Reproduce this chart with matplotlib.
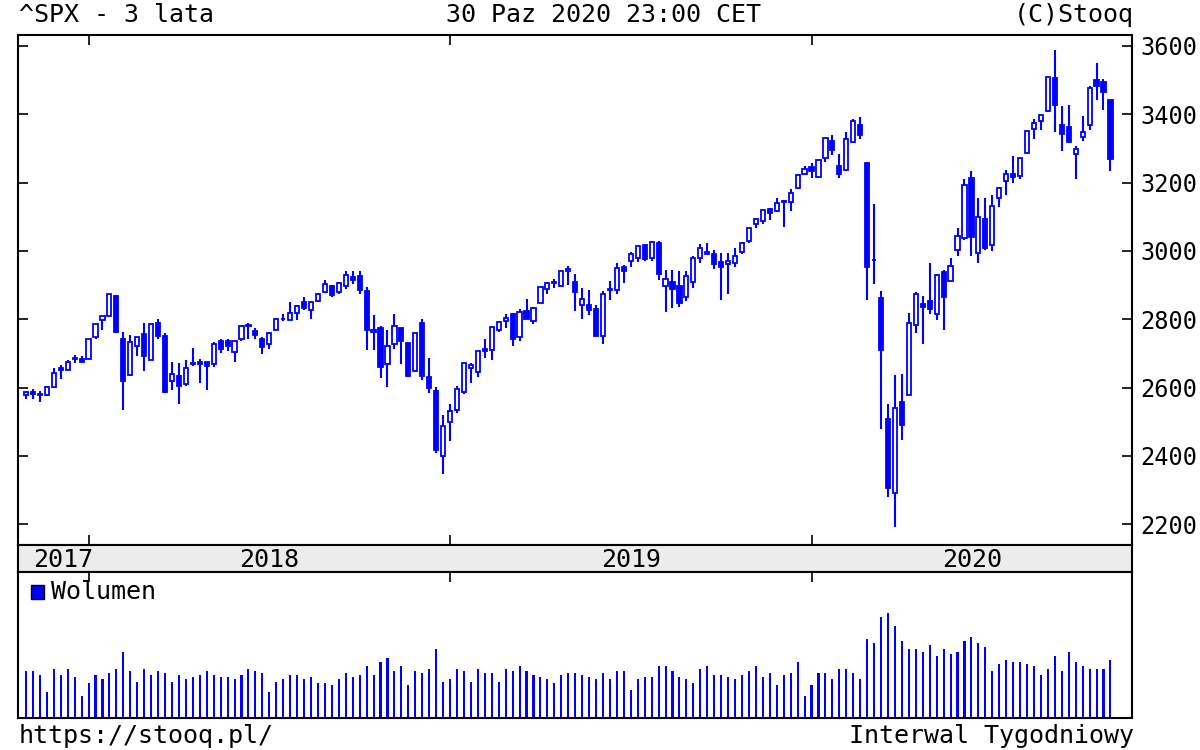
import matplotlib
matplotlib.use('Agg')
import matplotlib.pyplot as plt
from matplotlib.patches import Rectangle
import numpy as np
import pandas as pd

plt.rcParams['font.family'] = ['DejaVu Sans Mono']

# weekly candles, 3 Nov 2017 .. 30 Oct 2020
weeks = pd.date_range('2017-11-03', periods=157, freq='W-FRI')

opens = [2578, 2588, 2580, 2579, 2603, 2657, 2652, 2685, 2683,
         2684, 2747, 2798, 2809, 2867, 2741, 2636, 2722, 2757, 2681, 2788, 2752, 2619,
         2633, 2611, 2670, 2675, 2675, 2669, 2735, 2735, 2705, 2741, 2782, 2766, 2742,
         2726, 2769, 2800, 2799, 2819, 2849, 2827, 2853, 2881, 2896, 2880, 2896, 2923,
         2926, 2882, 2763, 2773, 2670, 2726, 2774, 2730, 2649, 2790, 2630, 2590, 2400,
         2498, 2535, 2586, 2657, 2644, 2713, 2711, 2769, 2796, 2814, 2747, 2823, 2796,
         2848, 2888, 2909, 2898, 2941, 2908, 2841, 2841, 2830, 2751, 2885, 2886, 2952,
         2971, 2979, 3017, 2978, 3024, 2898, 2908, 2898, 2866, 2910, 2980, 2996, 2991,
         2967, 2962, 2965, 2996, 3028, 3078, 3087, 3123, 3117, 3143, 3142, 3183, 3226,
         3247, 3217, 3271, 3321, 3248, 3236, 3319, 3369, 3257, 2974, 2863, 2508, 2291,
         2559, 2578, 2782, 2845, 2854, 2815, 2937, 2913, 3004, 3038, 3213, 2993, 3094,
         3018, 3155, 3205, 3224, 3219, 3288, 3356, 3380, 3410, 3507, 3369, 3363, 3285,
         3334, 3368, 3500, 3493, 3441]
highs = [2588, 2597, 2590, 2605, 2658, 2665, 2680, 2695, 2692,
         2743, 2787, 2810, 2873, 2870, 2763, 2754, 2747, 2789, 2787, 2802, 2761, 2675,
         2673, 2680, 2717, 2683, 2676, 2732, 2743, 2742, 2736, 2779, 2790, 2774, 2747,
         2763, 2804, 2816, 2849, 2842, 2864, 2853, 2876, 2916, 2900, 2908, 2941, 2940,
         2940, 2895, 2813, 2779, 2767, 2815, 2775, 2730, 2760, 2800, 2685, 2601, 2520,
         2553, 2604, 2675, 2672, 2708, 2743, 2775, 2792, 2814, 2817, 2831, 2860, 2836,
         2893, 2910, 2918, 2940, 2955, 2932, 2892, 2885, 2841, 2884, 2911, 2964, 2958,
         2996, 3014, 3018, 3028, 3028, 2945, 2943, 2940, 2940, 2985, 3021, 3022, 3002,
         2993, 2993, 3008, 3027, 3066, 3097, 3120, 3127, 3154, 3150, 3182, 3226, 3248,
         3258, 3267, 3330, 3338, 3285, 3347, 3385, 3393, 3260, 3137, 2882, 2553, 2637,
         2641, 2818, 2880, 2867, 2965, 2933, 2945, 2980, 3068, 3211, 3233, 3155, 3155,
         3165, 3187, 3238, 3279, 3272, 3352, 3387, 3399, 3509, 3588, 3425, 3428, 3306,
         3394, 3482, 3550, 3502, 3441]
lows = [2566, 2566, 2557, 2576, 2600, 2625, 2650, 2673, 2674,
        2683, 2742, 2768, 2808, 2759, 2533, 2634, 2693, 2647, 2681, 2742, 2585, 2594,
        2553, 2605, 2664, 2612, 2594, 2659, 2701, 2707, 2676, 2735, 2743, 2742, 2698,
        2713, 2768, 2796, 2799, 2797, 2827, 2802, 2849, 2878, 2864, 2874, 2887, 2903,
        2874, 2710, 2710, 2628, 2603, 2714, 2670, 2631, 2649, 2621, 2583, 2409, 2346,
        2443, 2525, 2580, 2612, 2631, 2687, 2682, 2764, 2775, 2722, 2737, 2800, 2785,
        2848, 2873, 2891, 2898, 2900, 2825, 2801, 2812, 2750, 2728, 2855, 2873, 2906,
        2953, 2967, 2969, 2970, 2914, 2822, 2834, 2836, 2853, 2891, 2964, 2990, 2946,
        2856, 2874, 2952, 2991, 3024, 3066, 3078, 3091, 3114, 3070, 3117, 3180, 3223,
        3212, 3214, 3260, 3280, 3214, 3235, 3315, 3328, 2855, 2902, 2478, 2280, 2192,
        2447, 2578, 2761, 2727, 2816, 2798, 2767, 2913, 2984, 3032, 2984, 2966, 3004,
        3000, 3129, 3163, 3200, 3209, 3284, 3328, 3354, 3406, 3349, 3293, 3317, 3209,
        3323, 3354, 3441, 3413, 3234]
closes = [2588, 2582, 2579, 2602, 2642, 2652, 2676, 2683, 2674,
          2743, 2786, 2810, 2873, 2762, 2620, 2732, 2747, 2691, 2787, 2752, 2588, 2641,
          2604, 2656, 2670, 2670, 2663, 2728, 2713, 2721, 2735, 2779, 2780, 2755, 2718,
          2760, 2801, 2802, 2819, 2840, 2833, 2850, 2875, 2902, 2872, 2905, 2930, 2914,
          2886, 2767, 2768, 2659, 2723, 2781, 2736, 2633, 2760, 2633, 2600, 2417, 2486,
          2532, 2596, 2671, 2665, 2707, 2708, 2776, 2793, 2804, 2743, 2822, 2801, 2834,
          2893, 2907, 2905, 2940, 2946, 2881, 2860, 2826, 2752, 2873, 2887, 2950, 2942,
          2990, 3014, 2977, 3026, 2932, 2919, 2889, 2847, 2926, 2979, 3007, 2992, 2962,
          2952, 2970, 2986, 3023, 3067, 3093, 3120, 3110, 3141, 3146, 3169, 3221, 3240,
          3235, 3265, 3330, 3295, 3226, 3328, 3380, 3338, 2954, 2972, 2711, 2305, 2541,
          2489, 2790, 2875, 2837, 2831, 2930, 2864, 2955, 3044, 3194, 3041, 3098, 3009,
          3130, 3185, 3225, 3216, 3271, 3351, 3373, 3397, 3508, 3427, 3341, 3319, 3298,
          3348, 3477, 3484, 3465, 3270]
volume = [143, 143, 130, 78, 149, 130, 149, 123, 65, 104,
          130, 117, 136, 149, 200, 143, 110, 149, 130, 143,
          136, 110, 130, 117, 123, 130, 143, 130, 123, 123,
          117, 130, 149, 143, 136, 78, 110, 117, 130, 130,
          117, 123, 104, 104, 98, 117, 136, 123, 130, 156,
          130, 168, 181, 143, 156, 98, 143, 136, 149, 207,
          110, 117, 149, 143, 110, 149, 136, 136, 110, 149,
          143, 156, 143, 130, 123, 117, 104, 130, 136, 136,
          130, 123, 117, 136, 117, 143, 143, 85, 117, 123,
          123, 156, 156, 143, 123, 117, 104, 149, 156, 130,
          130, 123, 117, 130, 143, 156, 123, 136, 98, 130,
          136, 168, 65, 98, 136, 136, 117, 149, 149, 136,
          117, 239, 226, 303, 316, 278, 232, 207, 207, 200,
          220, 188, 207, 194, 200, 232, 245, 226, 213, 143,
          162, 175, 168, 168, 162, 156, 130, 149, 188, 143,
          200, 168, 156, 149, 149, 149, 175]
price_ticks = [2200, 2400, 2600, 2800, 3000, 3200, 3400, 3600]

blue = '#0000ff'
W, H = 1200, 750

o = np.array(opens)
h = np.array(highs)
l = np.array(lows)
c = np.array(closes)
x = np.arange(len(weeks))
xlim = (-1.15, 159.1)

# year boundaries and label positions
years = weeks.year
year_ticks = [i for i in range(1, len(weeks)) if years[i] != years[i - 1]]
edges = [xlim[0]] + year_ticks + [xlim[1]]
label_pos = [(edges[k] + edges[k + 1]) / 2 for k in range(len(edges) - 1)]
label_pos[0] += 1.4
year_labels = [str(y) for y in sorted(set(years))]

fig = plt.figure(figsize=(12, 7.5), dpi=100)
ax = fig.add_axes([18 / W, 1 - 545 / H, 1114 / W, 510 / H])
band = fig.add_axes([18 / W, 1 - 572 / H, 1114 / W, 27 / H])
axv = fig.add_axes([18 / W, 1 - 718 / H, 1114 / W, 146 / H])

# candles
up = c >= o
ax.vlines(x, l, h, color=blue, lw=1.5, zorder=1)
ax.bar(x, np.maximum(np.abs(c - o), 1), bottom=np.minimum(o, c), width=0.6,
       color=np.where(up, 'white', blue), edgecolor=blue, linewidth=1.3, zorder=2)
ax.set_xlim(*xlim)
ax.set_ylim(2139, 3632)
ax.set_yticks(price_ticks)
ax.yaxis.tick_right()
ax.tick_params(axis='y', direction='in', left=True, right=True, length=7, width=1.2,
               labelsize=17, pad=6)
ax.set_xticks(year_ticks)
ax.tick_params(axis='x', direction='in', top=True, bottom=True, length=7, width=1.2,
               labelbottom=False)

# year band
band.set_facecolor('#ececec')
band.set_xlim(*xlim)
band.set_ylim(0, 1)
band.set_xticks([])
band.set_yticks([])
for pos, lab in zip(label_pos, year_labels):
    band.text(pos, 0.45, lab, ha='center', va='center', fontsize=18)

# volume
axv.bar(x, volume, width=0.3, color=blue, linewidth=0)
axv.set_xlim(*xlim)
axv.set_ylim(0, 440)
axv.set_yticks([])
axv.set_xticks(year_ticks)
axv.tick_params(axis='x', direction='in', top=True, bottom=False, length=7, width=1.2,
                labelbottom=False)

for a in (ax, band, axv):
    for s in a.spines.values():
        s.set_linewidth(1.5)
        s.set_color('black')

fig.patches.append(Rectangle((31 / W, 1 - 599 / H), 13 / W, 14 / H, transform=fig.transFigure,
                             facecolor=blue, edgecolor='black', lw=1))
fig.text(51 / W, 1 - 592 / H, 'Wolumen', va='center', fontsize=18)

fig.text(19 / W, 1 - 15 / H, '^SPX - 3 lata', va='center', fontsize=18)
fig.text(604 / W, 1 - 15 / H, '30 Paz 2020 23:00 CET', va='center', ha='center', fontsize=18)
fig.text(1134 / W, 1 - 15 / H, '(C)Stooq', va='center', ha='right', fontsize=18)
fig.text(19 / W, 1 - 736 / H, 'https://stooq.pl/', va='center', fontsize=18)
fig.text(1134 / W, 1 - 736 / H, 'Interwal Tygodniowy', va='center', ha='right', fontsize=18)

fig.savefig('out.png', dpi=100)
